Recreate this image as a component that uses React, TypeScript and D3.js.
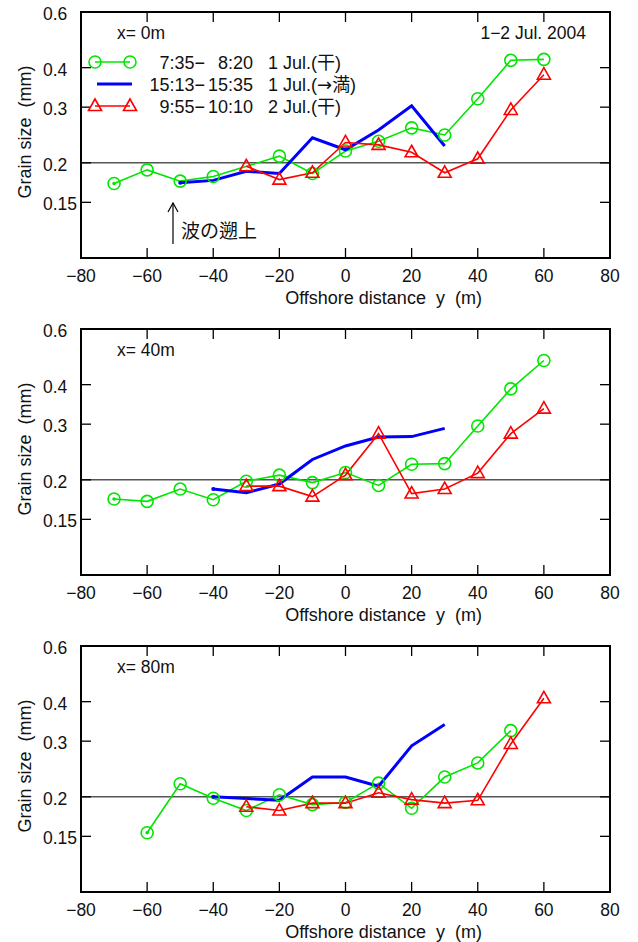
import * as d3 from "d3";
import { useEffect } from "react";

// offshore positions (m)
const distances = [-70, -60, -50, -40, -30, -20, -10, 0, 10, 20, 30, 40, 50, 60];

// grain size (mm), null = no sample
const green0 = [0.172, 0.19, 0.175, 0.181, null, 0.21, 0.185, 0.218, 0.234, 0.258, 0.245, 0.319, 0.422, 0.425];
const blue0 = [null, null, 0.173, 0.176, 0.188, 0.185, 0.24, 0.22, 0.254, 0.303, 0.226, null, null, null];
const red0 = [null, null, null, null, 0.195, 0.177, 0.186, 0.232, 0.228, 0.216, 0.186, 0.206, 0.294, 0.38];

const green40 = [0.174, 0.171, 0.187, 0.173, 0.198, 0.207, 0.196, 0.211, 0.192, 0.224, 0.225, 0.296, 0.388, 0.477];
const blue40 = [null, null, null, 0.187, 0.182, 0.194, 0.232, 0.256, 0.273, 0.274, 0.291, null, null, null];
const red40 = [null, null, null, null, 0.191, 0.191, 0.177, 0.207, 0.28, 0.181, 0.187, 0.21, 0.28, 0.336];

const green80 = [null, 0.154, 0.22, 0.198, 0.181, 0.203, 0.189, 0.192, 0.221, 0.184, 0.231, 0.256, 0.324, null];
const blue80 = [null, null, null, 0.2, null, 0.195, 0.231, 0.231, 0.216, 0.29, 0.339, null, null, null];
const red80 = [null, null, null, null, 0.186, 0.181, 0.191, 0.191, 0.206, 0.196, 0.191, 0.195, 0.294, 0.41];

const panels = [
  { label: "x= 0m", green: green0, blue: blue0, red: red0 },
  { label: "x= 40m", green: green40, blue: blue40, red: red40 },
  { label: "x= 80m", green: green80, blue: blue80, red: red80 },
];

const xTicks = [-80, -60, -40, -20, 0, 20, 40, 60, 80];
const yTicks = [0.15, 0.2, 0.3, 0.4, 0.6];

const legendRows = [
  { a: "7:35−", b: "8:20", c: "1 Jul.(", arrow: "", d: "干)", key: "green" },
  { a: "15:13−", b: "15:35", c: "1 Jul.(", arrow: "→", d: "満)", key: "blue" },
  { a: "9:55−", b: "10:10", c: "2 Jul.(", arrow: "", d: "干)", key: "red" },
];

const GREEN = "#00e600";
const BLUE = "#0000ff";
const RED = "#ff0000";
const FONT = "'Liberation Sans', 'Noto Sans CJK JP', sans-serif";
const CJK = "'Noto Sans CJK JP', sans-serif";

const left = 81;
const right = 610;
const plotH = 246;
const tops = [12, 329, 646];

const x = d3.scaleLinear().domain([-80, 80]).range([left, right]);

function pts(vals: (number | null)[]) {
  return distances.map((d, i) => [d, vals[i]] as [number, number | null]).filter((p) => p[1] != null) as [number, number][];
}

function tri(cx: number, cy: number) {
  return `M${cx},${cy - 7}L${cx + 6.5},${cy + 4.5}L${cx - 6.5},${cy + 4.5}Z`;
}

function Panel({ idx }: { idx: number }) {
  const p = panels[idx];
  const top = tops[idx];
  const bottom = top + plotH;
  const y = d3.scaleLog().domain([0.1, 0.6]).range([bottom, top]);
  const line = d3
    .line<[number, number]>()
    .x((d) => x(d[0]))
    .y((d) => y(d[1]));
  const g = pts(p.green);
  const b = pts(p.blue);
  const r = pts(p.red);

  return (
    <g fontFamily={FONT} fill="#111">
      {/* 0.2 reference line */}
      <line x1={left} x2={right} y1={y(0.2)} y2={y(0.2)} stroke="#555" strokeWidth={1.5} />
      {/* ticks */}
      {xTicks.slice(1, -1).map((t) => (
        <g key={"xt" + t} stroke="#000" strokeWidth={1.3}>
          <line x1={x(t)} x2={x(t)} y1={top} y2={top + 10} />
          <line x1={x(t)} x2={x(t)} y1={bottom} y2={bottom - 10} />
        </g>
      ))}
      {yTicks.slice(0, -1).map((t) => (
        <g key={"yt" + t} stroke="#000" strokeWidth={1.3}>
          <line x1={left} x2={left + 10} y1={y(t)} y2={y(t)} />
          <line x1={right} x2={right - 10} y1={y(t)} y2={y(t)} />
        </g>
      ))}
      <rect x={left} y={top} width={right - left} height={plotH} fill="none" stroke="#000" strokeWidth={2} />
      {/* tick labels */}
      {xTicks.map((t) => (
        <text key={"xl" + t} x={x(t)} y={bottom + 24} textAnchor="middle" fontSize={17.5}>
          {t < 0 ? "−" + Math.abs(t) : String(t)}
        </text>
      ))}
      {yTicks.map((t) => (
        <text key={"yl" + t} x={43} y={y(t) + 8} fontSize={17.5}>
          {String(t)}
        </text>
      ))}
      <text x={x(11.5)} y={bottom + 46} textAnchor="middle" fontSize={18} style={{ whiteSpace: "pre" }}>
        {"Offshore distance  y  (m)"}
      </text>
      <text
        transform={`translate(31,${top + 120}) rotate(-90)`}
        textAnchor="middle"
        fontSize={18}
        style={{ whiteSpace: "pre" }}
      >
        {"Grain size  (mm)"}
      </text>
      <text x={117} y={top + 27} fontSize={17.5}>
        {p.label}
      </text>

      {/* series */}
      <path d={line(g) || ""} fill="none" stroke={GREEN} strokeWidth={1.6} />
      <path d={line(b) || ""} fill="none" stroke={BLUE} strokeWidth={3} />
      <path d={line(r) || ""} fill="none" stroke={RED} strokeWidth={1.6} />
      {g.map((d, i) => (
        <circle key={"g" + i} cx={x(d[0])} cy={y(d[1])} r={6} fill="none" stroke={GREEN} strokeWidth={1.6} />
      ))}
      {r.map((d, i) => (
        <path key={"r" + i} d={tri(x(d[0]), y(d[1]))} fill="none" stroke={RED} strokeWidth={1.6} />
      ))}
      <circle cx={x(g[0][0])} cy={y(g[0][1])} r={1.8} fill={GREEN} />
      <circle cx={x(b[0][0])} cy={y(b[0][1])} r={2} fill={BLUE} />

      {idx === 0 && (
        <g>
          <text x={586} y={top + 27} textAnchor="end" fontSize={17.5}>
            1−2 Jul. 2004
          </text>
          {legendRows.map((row, i) => {
            const ly = top + 50 + i * 22;
            return (
              <g key={row.key}>
                {row.key === "green" && (
                  <g stroke={GREEN} strokeWidth={1.6} fill="none">
                    <line x1={95} x2={130} y1={ly} y2={ly} />
                    <circle cx={95} cy={ly} r={6} />
                    <circle cx={130} cy={ly} r={6} />
                  </g>
                )}
                {row.key === "blue" && <line x1={97} x2={132} y1={ly} y2={ly} stroke={BLUE} strokeWidth={3} />}
                {row.key === "red" && (
                  <g stroke={RED} strokeWidth={1.6} fill="none">
                    <line x1={95} x2={130} y1={ly} y2={ly} />
                    <path d={tri(95, ly)} />
                    <path d={tri(130, ly)} />
                  </g>
                )}
                <text x={205} y={ly + 7} textAnchor="end" fontSize={18}>
                  {row.a}
                </text>
                <text x={253} y={ly + 7} textAnchor="end" fontSize={18}>
                  {row.b}
                </text>
                <text x={268} y={ly + 7} fontSize={18}>
                  {row.c}
                  {row.arrow && <tspan fontFamily="'DejaVu Sans', sans-serif">{row.arrow}</tspan>}
                  {row.d}
                </text>
              </g>
            );
          })}
          <g stroke="#000" strokeWidth={1.2} fill="none">
            <line x1={173} x2={173} y1={203} y2={244} />
            <path d="M168,212L173,203L178,212" />
          </g>
          <text x={181} y={238} fontSize={19} fontFamily={CJK}>
            波の遡上
          </text>
        </g>
      )}
    </g>
  );
}

export default function App() {
  useEffect(() => {
    document.body.style.margin = "0";
  }, []);
  return (
    <svg width={638} height={942} style={{ display: "block", background: "#fff" }}>
      {panels.map((_, i) => (
        <Panel key={i} idx={i} />
      ))}
    </svg>
  );
}
